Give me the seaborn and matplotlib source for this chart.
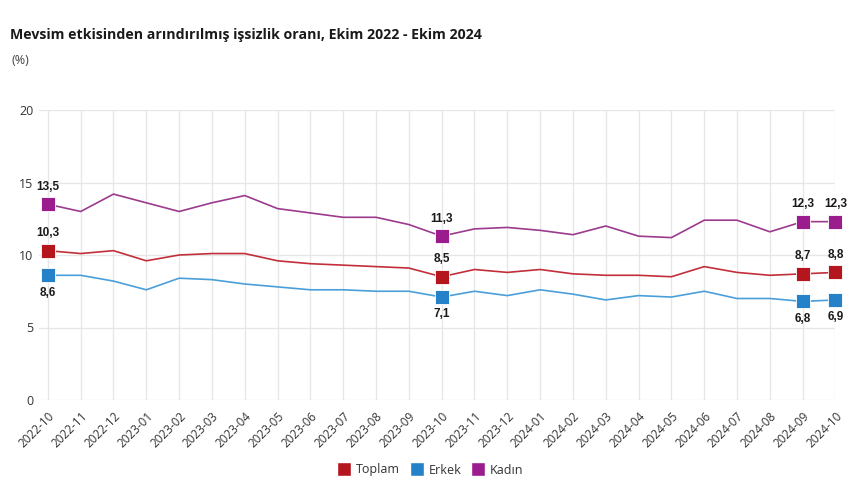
import pandas as pd
import matplotlib
matplotlib.use("Agg")
import matplotlib.pyplot as plt
from matplotlib.lines import Line2D
import seaborn as sns

# Data
months = ["2022-10", "2022-11", "2022-12", "2023-01", "2023-02", "2023-03", "2023-04",
          "2023-05", "2023-06", "2023-07", "2023-08", "2023-09", "2023-10", "2023-11",
          "2023-12", "2024-01", "2024-02", "2024-03", "2024-04", "2024-05", "2024-06",
          "2024-07", "2024-08", "2024-09", "2024-10"]
toplam = [10.3, 10.1, 10.3, 9.6, 10.0, 10.1, 10.1, 9.6, 9.4, 9.3, 9.2, 9.1, 8.5,
          9.0, 8.8, 9.0, 8.7, 8.6, 8.6, 8.5, 9.2, 8.8, 8.6, 8.7, 8.8]
erkek = [8.6, 8.6, 8.2, 7.6, 8.4, 8.3, 8.0, 7.8, 7.6, 7.6, 7.5, 7.5, 7.1,
         7.5, 7.2, 7.6, 7.3, 6.9, 7.2, 7.1, 7.5, 7.0, 7.0, 6.8, 6.9]
kadin = [13.5, 13.0, 14.2, 13.6, 13.0, 13.6, 14.1, 13.2, 12.9, 12.6, 12.6, 12.1, 11.3,
         11.8, 11.9, 11.7, 11.4, 12.0, 11.3, 11.2, 12.4, 12.4, 11.6, 12.3, 12.3]
series = ["Toplam", "Erkek", "Kadın"]
marked = ["2022-10", "2023-10", "2024-09", "2024-10"]

line_colors = {"Toplam": "#c22f3b", "Erkek": "#4a9fda", "Kadın": "#9c3a8e"}
marker_colors = {"Toplam": "#b5161e", "Erkek": "#2581c8", "Kadın": "#9b1c8c"}

df = pd.DataFrame({"month": months, "Toplam": toplam, "Erkek": erkek, "Kadın": kadin})
df["x"] = range(len(months))
long = df.melt(id_vars=["month", "x"], value_vars=series, var_name="seri", value_name="oran")

sns.set_style("white")
plt.rcParams["font.family"] = ["Open Sans", "DejaVu Sans"]

fig = plt.figure(figsize=(8.6, 5.04), dpi=100)
ax = fig.add_axes([39 / 860, 1 - 400 / 504, (835.5 - 39) / 860, 290 / 504])

sns.lineplot(data=long, x="x", y="oran", hue="seri", palette=line_colors,
             linewidth=1.2, legend=False, ax=ax)

# square markers and value labels on selected months
pts = long[long["month"].isin(marked)]
for s in series:
    sub = pts[pts["seri"] == s]
    ax.scatter(sub["x"], sub["oran"], marker="s", s=105, color=marker_colors[s],
               edgecolors="white", linewidths=0.6, zorder=5, clip_on=False)
    for _, r in sub.iterrows():
        off = -12.5 if s == "Erkek" else 12.5
        ax.annotate(f"{r['oran']:.1f}".replace(".", ","), (r["x"], r["oran"]),
                    xytext=(0, off), textcoords="offset points", ha="center",
                    va="center", fontsize=8.5, fontweight="bold", color="#1a1a1a",
                    family="Liberation Sans", zorder=6)

ax.set_xlim(-0.27, len(months) - 1)
ax.set_ylim(0, 20)
ax.set_yticks([0, 5, 10, 15, 20])
ax.set_xticks(df["x"])
ax.set_xticklabels(months, rotation=45, ha="right", rotation_mode="anchor")
ax.grid(True, color="#e6e6e6", linewidth=0.9)
ax.set_axisbelow(True)
for sp in ax.spines.values():
    sp.set_visible(False)
ax.tick_params(axis="x", length=5, color="#e6e6e6", width=0.9, pad=2,
               labelsize=8.5, labelcolor="#333333")
ax.tick_params(axis="y", length=0, pad=4, labelsize=9, labelcolor="#333333")
ax.set_xlabel("")
ax.set_ylabel("")

fig.text(10 / 860, 1 - 35 / 504, "Mevsim etkisinden arındırılmış işsizlik oranı, Ekim 2022 - Ekim 2024",
         fontsize=10.2, fontweight="bold", color="#1a1a1a", va="center", ha="left")
fig.text(12 / 860, 1 - 60 / 504, "(%)", fontsize=9, color="#444444", va="center", ha="left")

handles = [Line2D([0], [0], marker="s", linestyle="", markersize=10,
                  markerfacecolor=marker_colors[s], markeredgecolor="white", label=s)
           for s in series]
fig.legend(handles=handles, loc="center", bbox_to_anchor=(431 / 860, 1 - 470 / 504),
           ncol=3, frameon=False, fontsize=9, handlelength=0.9, handletextpad=0.5,
           columnspacing=0.9, labelcolor="#333333")

fig.savefig("out.png", dpi=100)
